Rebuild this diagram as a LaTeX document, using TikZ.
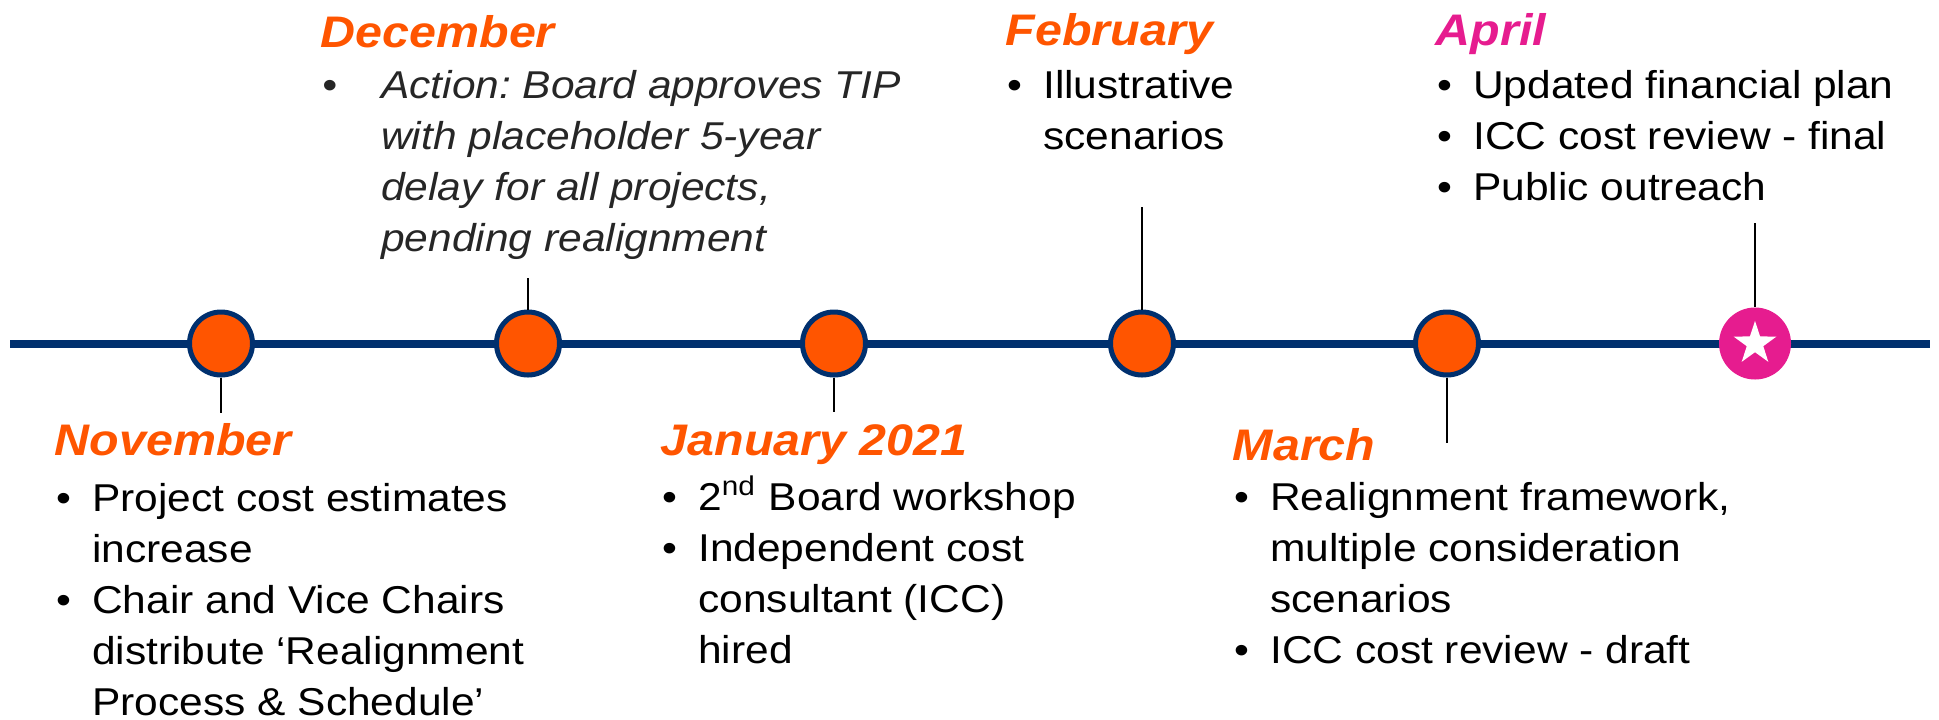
\documentclass[tikz,border=0pt]{standalone}
\usepackage{fontspec}
\setmainfont[FakeStretch=1.095]{Liberation Sans}
\usepackage{tikz}
\usetikzlibrary{shapes.geometric}
\definecolor{tl-orange}{HTML}{FF5500}
\definecolor{tl-navy}{HTML}{00306E}
\definecolor{tl-pink}{HTML}{E61C8F}
\definecolor{tl-gray}{HTML}{262626}
\newcommand{\bul}[1][9pt]{\makebox[#1][l]{\textbullet}}
\newcommand{\cnt}[1][9pt]{\makebox[#1]{}}
\frenchspacing

\begin{document}
\begin{tikzpicture}[
    x=0.25pt, y=-0.25pt,
    event/.style={circle, fill=tl-orange, draw=tl-navy, line width=1.25pt,
                  minimum size=15.75pt, inner sep=0pt},
    goal/.style={circle, fill=tl-pink, minimum size=18pt, inner sep=0pt},
    month/.style={anchor=base west, inner sep=0pt, text=tl-orange,
                  font=\fontsize{11.05}{12.75}\selectfont\bfseries\itshape},
    items/.style={anchor=base west, inner sep=0pt, align=left,
                  font=\fontsize{9.7}{12.75}\selectfont},
    axis/.style={line width=2pt, draw=tl-navy},
    tick/.style={line width=0.6pt}
]
  \useasboundingbox (0,0) rectangle (1939,719);

  % Timeline
  \coordinate (lineL) at (10,343.5);
  \coordinate (lineR) at (1930,343.5);
  \draw[axis] (lineL) -- (lineR);

  % Milestones
  \foreach \n/\x in {nov/221, dec/528, jan/834, feb/1142, mar/1447}
    \node[event] (\n) at (\x,343.5) {};
  \node[goal] (apr) at (1755,343.5) {};
  \node[star, star points=5, star point ratio=2.6, fill=white,
        minimum size=11.3pt, inner sep=0pt] (aprstar) at (apr) {};

  % Ticks
  \coordinate (novT) at (221,413);
  \coordinate (decT) at (528,278);
  \coordinate (janT) at (834,412);
  \coordinate (febT) at (1142,207);
  \coordinate (marT) at (1447,443);
  \coordinate (aprT) at (1755,223);
  \draw[tick] (nov) -- (novT);
  \draw[tick] (dec) -- (decT);
  \draw[tick] (jan) -- (janT);
  \draw[tick] (feb) -- (febT);
  \draw[tick] (mar) -- (marT);
  \draw[tick] (apr) -- (aprT);

  % November (lists sit on the baseline of their last line)
  \node[month] (novM) at (54,455) {November};
  \node[items] (novL) at (55.5,715) {\bul Project cost estimates\\
    \cnt increase\\
    \bul Chair and Vice Chairs\\
    \cnt distribute ‘Realignment\\
    \cnt Process \& Schedule’};

  % December
  \node[month] (decM) at (320,47) {December};
  \node[items, text=tl-gray, font=\fontsize{9.7}{12.75}\selectfont\itshape] (decL) at (321.5,251)
    {\bul[14.75pt]Action: Board approves TIP\\
    \cnt[14.75pt]with placeholder 5-year\\
    \cnt[14.75pt]delay for all projects,\\
    \cnt[14.75pt]pending realignment};

  % January
  \node[month] (janM) at (660,455) {January 2021};
  \node[items] (janL) at (661.5,663) {\bul 2\textsuperscript{nd} Board workshop\\
    \bul Independent cost\\
    \cnt consultant (ICC)\\
    \cnt hired};

  % February
  \node[month] (febM) at (1005,45) {February};
  \node[items] (febL) at (1006.5,149) {\bul Illustrative\\
    \cnt scenarios};

  % March
  \node[month] (marM) at (1232,460) {March};
  \node[items] (marL) at (1233.5,663) {\bul Realignment framework,\\
    \cnt multiple consideration\\
    \cnt scenarios\\
    \bul ICC cost review - draft};

  % April
  \node[month, text=tl-pink] (aprM) at (1435,45) {April};
  \node[items] (aprL) at (1436.5,200) {\bul Updated financial plan\\
    \bul ICC cost review - final\\
    \bul Public outreach};

\end{tikzpicture}
\end{document}
